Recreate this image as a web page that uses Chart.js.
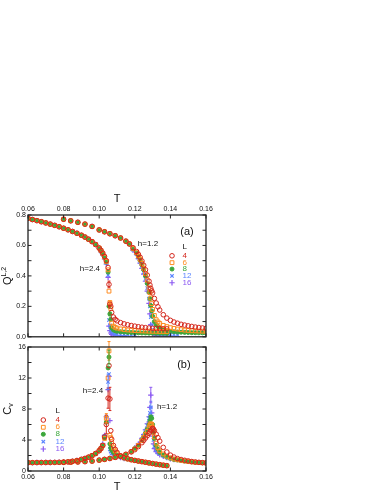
<!DOCTYPE html>
<html>
<head>
<meta charset="utf-8">
<script src="https://cdn.jsdelivr.net/npm/chart.js@4.4.1/dist/chart.umd.min.js"></script>
<style>
  html, body { margin: 0; padding: 0; background: #fff; }
  #page { position: relative; width: 382px; height: 494px; overflow: hidden; background: #fff; }
  .panel { position: absolute; left: 0; }
</style>
</head>
<body>
<div id="page">
  <canvas id="chartA" class="panel" width="215" height="157" style="top:185px"></canvas>
  <canvas id="chartB" class="panel" width="215" height="154" style="top:340px"></canvas>
</div>
<script>
'use strict';

// ---- axes ----
const tTicks  = [0.06, 0.08, 0.10, 0.12, 0.14, 0.16];
const qTicks  = [0, 0.2, 0.4, 0.6, 0.8];
const cvTicks = [0, 4, 8, 12, 16];
const sizes   = ['4', '6', '8', '12', '16'];

// ---- (a) Q, h=2.4 ----
const tLow24 = [0.060,0.0625,0.065,0.0675,0.070,0.0725,0.075,0.0775,0.080,0.0825,0.085,0.0875,0.090,0.092,0.094,0.096,0.098,0.100];
const qLow24 = [0.778,0.770,0.763,0.756,0.748,0.740,0.732,0.723,0.713,0.703,0.692,0.680,0.667,0.655,0.641,0.625,0.606,0.583];
const tHigh24 = [0.101,0.102,0.103,0.104,0.105,0.1055,0.106,0.1065,0.107,0.108,0.109,0.110,0.112,0.114,0.116,0.118,0.120,0.122,0.124,0.126,0.128,0.130,0.132,0.134,0.136,0.138];
const q24L4  = [0.568,0.550,0.528,0.500,0.455,0.344,0.215,0.200,0.160,0.130,0.115,0.105,0.093,0.085,0.079,0.074,0.070,0.066,0.063,0.060,0.058,0.056,0.055,0.054,0.053,0.052];
const q24L6  = [0.566,0.547,0.524,0.495,0.440,0.300,0.225,0.185,0.090,0.070,0.062,0.057,0.052,0.048,0.045,0.043,0.041,0.040,0.039,0.038,0.037,0.036,0.036,0.035,0.035,0.034];
const q24L8  = [0.564,0.545,0.521,0.491,0.425,0.200,0.150,0.115,0.060,0.045,0.040,0.036,0.033,0.031,0.029,0.028,0.027,0.026,0.025,0.025,0.024,0.024,0.023,0.023,0.023,0.022];
const q24L12 = [0.560,0.540,0.516,0.485,0.405,0.110,0.075,0.045,0.030,0.022,0.019,0.017,0.015,0.014,0.013,0.012,0.012,null,null,null,null,null,null,null,null,null];
const q24L16 = [0.557,0.536,0.511,0.478,0.390,0.070,0.040,0.025,0.015,0.012,0.010,0.009,0.008,0.008,null,null,null,null,null,null,null,null,null,null,null,null];

// ---- (a) Q, h=1.2 ----
const tLow12 = [0.080,0.084,0.088,0.092,0.096,0.100,0.103,0.106,0.109,0.112,0.115,0.117];
const qLow12 = [0.772,0.762,0.752,0.740,0.725,0.702,0.690,0.677,0.664,0.649,0.628,0.610];
const tHighQ12 = [0.119,0.121,0.122,0.123,0.124,0.125,0.126,0.127,0.128,0.1285,0.129,0.1295,0.130,0.131,0.132,0.133,0.134,0.136,0.138,0.140,0.142,0.144,0.146,0.148,0.150,0.152,0.154,0.156,0.158,0.160];
const q12L4  = [0.585,0.560,0.542,0.522,0.498,0.470,0.440,0.405,0.365,0.340,0.318,0.302,0.288,0.252,0.222,0.197,0.176,0.145,0.123,0.108,0.097,0.089,0.082,0.077,0.072,0.068,0.064,0.061,0.058,0.056];
const q12L6  = [0.580,0.553,0.532,0.509,0.482,0.450,0.415,0.372,0.322,0.290,0.255,0.218,0.180,0.140,0.112,0.098,0.088,0.075,0.067,0.060,0.055,0.051,0.047,0.044,0.042,0.040,0.039,0.038,0.037,0.036];
const q12L8  = [0.577,0.549,0.527,0.501,0.472,0.440,0.400,0.350,0.292,0.250,0.205,0.170,0.135,0.100,0.080,0.068,0.058,0.048,0.042,0.036,0.033,0.031,0.030,0.029,0.028,0.027,0.027,0.026,0.026,0.025];
const q12L12 = [0.572,0.544,0.520,0.492,0.460,0.425,0.380,0.320,0.250,0.200,0.130,0.080,0.047,0.030,0.024,0.020,0.018,0.016,0.015,0.014,0.013,0.012,null,null,null,null,null,null,null,null];
const q12L16 = [0.568,0.540,0.514,0.484,0.450,0.412,0.365,0.300,0.220,0.150,0.080,0.040,0.018,0.012,0.010,0.009,0.008,0.007,0.007,null,null,null,null,null,null,null,null,null,null,null];

// ---- (b) Cv, h=2.4 (same T grid as (a)) ----
const cLow24 = [1.08,1.08,1.09,1.09,1.10,1.10,1.11,1.12,1.14,1.18,1.25,1.35,1.50,1.62,1.78,1.98,2.25,2.62];
const c24L4  = [2.9,3.3,4.4,6.0,9.4,13.6,9.3,5.2,4.1,3.3,2.8,2.4,1.95,1.72,1.58,1.46,1.37,1.29,1.21,1.13,1.05,0.97,0.89,0.82,0.75,0.69];
const c24L6  = [2.9,3.3,4.2,6.8,12.0,15.5,4.6,4.3,3.6,3.0,2.6,2.3,1.92,1.70,1.56,1.45,1.36,1.28,1.20,1.12,1.04,0.96,0.88,0.81,0.74,0.68];
const c24L8  = [2.9,3.3,4.3,6.3,13.3,14.7,3.5,3.0,2.7,2.4,2.2,2.0,1.85,1.68,1.55,1.44,1.35,1.27,1.19,1.11,1.03,0.95,0.87,0.80,0.74,0.68];
const c24L12 = [3.0,3.4,4.5,7.0,11.5,12.5,2.8,2.5,2.3,2.1,1.95,1.85,1.75,1.63,1.52,1.42,1.34,1.26,null,null,null,null,null,null,null,null];
const c24L16 = [3.0,3.5,4.6,7.0,10.5,12.2,6.5,3.0,2.4,2.1,1.95,1.85,1.72,1.60,null,null,null,null,null,null,null,null,null,null,null,null];

// ---- (b) Cv, h=1.2 ----
const tLowC12 = [0.080,0.084,0.088,0.092,0.096,0.100,0.103,0.106,0.109,0.112,0.115,0.118];
const cLow12  = [1.12,1.14,1.17,1.21,1.28,1.40,1.50,1.62,1.76,1.92,2.15,2.48];
const tHighC12 = [0.120,0.122,0.124,0.125,0.126,0.127,0.128,0.1285,0.129,0.1295,0.130,0.1305,0.131,0.132,0.133,0.134,0.136,0.138,0.140,0.142,0.144,0.146,0.148,0.150,0.152,0.154,0.156,0.158,0.160];
const c12L4  = [2.75,3.15,3.65,3.95,4.25,4.55,4.85,5.05,5.25,5.40,5.50,5.40,5.20,4.75,4.30,3.85,3.05,2.45,2.05,1.80,1.60,1.48,1.38,1.30,1.22,1.16,1.12,1.08,1.05];
const c12L6  = [2.85,3.30,3.90,4.30,4.70,5.10,5.60,5.90,6.10,6.00,5.60,5.00,4.40,3.60,3.00,2.60,2.20,1.90,1.70,1.55,1.45,1.38,1.30,1.24,1.18,1.13,1.10,1.06,1.03];
const c12L8  = [2.90,3.30,4.00,4.40,4.90,5.40,6.00,6.50,7.00,6.80,6.00,5.00,4.20,3.30,2.80,2.40,2.05,1.80,1.65,1.50,1.42,1.35,1.28,1.22,1.17,1.13,1.09,1.06,1.03];
const c12L12 = [2.90,3.40,4.10,4.60,5.20,5.90,6.80,7.50,8.20,7.00,5.00,4.00,3.20,2.70,2.40,2.20,1.95,1.75,1.60,1.50,1.40,1.33,1.27,1.21,1.16,null,null,null,null];
const c12L16 = [3.00,3.50,4.20,4.70,5.30,6.10,7.00,8.20,9.80,7.50,4.50,3.50,2.90,2.50,2.30,2.10,1.90,1.72,1.58,1.48,null,null,null,null,null,null,null,null,null];

// error bars: [series index, T, value, half-width]
const errA = [[0,0.1055,0.344,0.022],[0,0.106,0.215,0.012],[1,0.106,0.225,0.010],[2,0.106,0.150,0.012]];
const errB = [[0,0.104,6.0,1.2],[0,0.105,9.4,1.3],[0,0.106,9.3,1.5],[1,0.104,6.8,0.6],[1,0.1055,15.5,1.2],
              [2,0.1055,14.7,0.9],[3,0.105,11.5,1.0],[3,0.129,8.2,0.8],[4,0.129,9.8,1.0]];

// ---- styling ----
const FONT = "'Liberation Sans', Arial, Helvetica, sans-serif";
const COLORS = ['#d3261c', '#ff8c21', '#3ca73c', '#5b85ff', '#8c5af2'];
const MARKS = [
  { pointStyle: 'circle',   radius: 2.3, borderWidth: 1,   fill: false },
  { pointStyle: 'rect',     radius: 2.7, borderWidth: 1,   fill: false },
  { pointStyle: 'circle',   radius: 2.0, borderWidth: 1,   fill: true  },
  { pointStyle: 'crossRot', radius: 2.4, borderWidth: 1.2, fill: false },
  { pointStyle: 'cross',    radius: 2.7, borderWidth: 1.2, fill: false }
];

function pts(ts, vs) {
  return ts.map((t, i) => ({ x: t, y: vs[i] })).filter(p => p.y != null);
}

function series(i, data) {
  const m = MARKS[i];
  return {
    data,
    showLine: false,
    pointStyle: m.pointStyle,
    pointRadius: m.radius,
    pointBorderWidth: m.borderWidth,
    borderColor: COLORS[i],
    backgroundColor: m.fill ? COLORS[i] : 'rgba(0,0,0,0)'
  };
}

function drawMark(ctx, i, x, y) {
  const m = MARKS[i];
  ctx.strokeStyle = COLORS[i];
  ctx.fillStyle = m.fill ? COLORS[i] : 'rgba(0,0,0,0)';
  ctx.lineWidth = m.borderWidth;
  Chart.helpers.drawPoint(ctx, { pointStyle: m.pointStyle, radius: m.radius, borderWidth: m.borderWidth, rotation: 0 }, x, y);
}

// frame, inward ticks, error bars, notes, legend, axis titles
const panelDecor = {
  id: 'panelDecor',
  afterDatasetsDraw(chart, args, o) {
    const { ctx, chartArea: a, scales: { x, y } } = chart;
    ctx.save();

    (o.errors || []).forEach(([i, t, v, e]) => {
      const px = x.getPixelForValue(t);
      const y1 = y.getPixelForValue(v - e), y2 = y.getPixelForValue(v + e);
      ctx.strokeStyle = COLORS[i];
      ctx.lineWidth = 1;
      ctx.beginPath();
      ctx.moveTo(px, y1); ctx.lineTo(px, y2);
      ctx.moveTo(px - 1.5, y1); ctx.lineTo(px + 1.5, y1);
      ctx.moveTo(px - 1.5, y2); ctx.lineTo(px + 1.5, y2);
      ctx.stroke();
    });

    ctx.strokeStyle = '#222';
    ctx.lineWidth = 1.3;
    ctx.strokeRect(a.left, a.top, a.right - a.left, a.bottom - a.top);
    ctx.lineWidth = 1;
    ctx.beginPath();
    tTicks.forEach(v => {
      const px = x.getPixelForValue(v);
      ctx.moveTo(px, a.top); ctx.lineTo(px, a.top + 3.5);
      ctx.moveTo(px, a.bottom); ctx.lineTo(px, a.bottom - 3.5);
    });
    const yt = o.yTicks;
    const yAll = yt.concat(yt.slice(1).map((v, k) => (v + yt[k]) / 2));
    yAll.forEach(v => {
      const py = y.getPixelForValue(v);
      ctx.moveTo(a.left, py); ctx.lineTo(a.left + 3.5, py);
      ctx.moveTo(a.right, py); ctx.lineTo(a.right - 3.5, py);
    });
    ctx.stroke();

    ctx.fillStyle = '#111';
    ctx.textBaseline = 'middle';
    (o.notes || []).forEach(n => {
      ctx.font = `${n.size}px ${FONT}`;
      ctx.textAlign = 'center';
      ctx.fillText(n.text, x.getPixelForValue(n.t), y.getPixelForValue(n.v));
    });

    const lg = o.legend;
    ctx.font = `8px ${FONT}`;
    ctx.textAlign = 'left';
    ctx.fillStyle = '#111';
    ctx.fillText('L', x.getPixelForValue(lg.tText), y.getPixelForValue(lg.vHead));
    lg.rows.forEach((v, i) => {
      const py = y.getPixelForValue(v);
      drawMark(ctx, i, x.getPixelForValue(lg.tMark), py);
      ctx.fillStyle = COLORS[i];
      ctx.fillText(sizes[i], x.getPixelForValue(lg.tText), py);
    });

    // T title
    ctx.fillStyle = '#111';
    ctx.textAlign = 'center';
    ctx.font = `11px ${FONT}`;
    const cx = (a.left + a.right) / 2;
    ctx.fillText('T', cx, o.titleTop ? a.top - 16 : a.bottom + 16);

    // y title with super/subscript
    const cy = (a.top + a.bottom) / 2;
    ctx.translate(8, cy);
    ctx.rotate(-Math.PI / 2);
    ctx.textAlign = 'left';
    ctx.font = `11px ${FONT}`;
    const wMain = ctx.measureText(o.yMain).width;
    ctx.font = `7px ${FONT}`;
    const wSub = ctx.measureText(o.ySub).width;
    const x0 = -(wMain + wSub) / 2;
    ctx.font = `11px ${FONT}`;
    ctx.fillText(o.yMain, x0, 0);
    ctx.font = `7px ${FONT}`;
    ctx.fillText(o.ySub, x0 + wMain, o.supers ? -4 : 3);
    ctx.restore();
  }
};

function xScale(position, height) {
  return {
    type: 'linear', position, min: 0.06, max: 0.16,
    afterBuildTicks: s => { s.ticks = tTicks.map(v => ({ value: v })); },
    afterFit: s => { s.height = height; s.paddingLeft = 0; s.paddingRight = 0; },
    ticks: { callback: v => v.toFixed(2), font: { family: FONT, size: 7 }, color: '#111', padding: 2, maxRotation: 0, autoSkip: false },
    grid: { display: false, drawTicks: false },
    border: { display: false }
  };
}

function yScale(max, ticks, digits) {
  return {
    type: 'linear', min: 0, max,
    afterBuildTicks: s => { s.ticks = ticks.map(v => ({ value: v })); },
    afterFit: s => { s.width = 28; s.paddingTop = 0; s.paddingBottom = 0; },
    ticks: { callback: v => v.toFixed(digits), font: { family: FONT, size: 7 }, color: '#111', padding: 2, autoSkip: false },
    grid: { display: false, drawTicks: false },
    border: { display: false }
  };
}

function build(id, datasets, xs, ys, padding, decor) {
  return new Chart(document.getElementById(id), {
    type: 'scatter',
    data: { datasets },
    options: {
      responsive: false,
      animation: false,
      events: [],
      layout: { padding },
      scales: { x: xs, y: ys },
      plugins: { legend: { display: false }, tooltip: { enabled: false }, panelDecor: decor }
    },
    plugins: [panelDecor]
  });
}

// (a)
const q24 = [q24L4, q24L6, q24L8, q24L12, q24L16];
const q12 = [q12L4, q12L6, q12L8, q12L12, q12L16];
const dsA = [];
q24.forEach((vals, i) => {
  dsA.push(series(i, pts(tLow24, qLow24).concat(pts(tHigh24, vals))));
  dsA.push(series(i, pts(tLow12, qLow12).concat(pts(tHighQ12, q12[i]))));
});
build('chartA', dsA, xScale('top', 30), yScale(0.8, qTicks, 1), { left: 0, right: 9, top: 0, bottom: 3 }, {
  yTicks: qTicks, errors: errA, titleTop: true, yMain: 'Q', ySub: 'L,2', supers: true,
  notes: [
    { text: '(a)', t: 0.1493, v: 0.690, size: 11 },
    { text: 'h=1.2', t: 0.1274, v: 0.613, size: 8 },
    { text: 'h=2.4', t: 0.0948, v: 0.445, size: 8 }
  ],
  legend: { tMark: 0.1409, tText: 0.1468, vHead: 0.590, rows: [0.532, 0.487, 0.445, 0.400, 0.355] }
});

// (b)
const c24 = [c24L4, c24L6, c24L8, c24L12, c24L16];
const c12 = [c12L4, c12L6, c12L8, c12L12, c12L16];
const dsB = [];
c24.forEach((vals, i) => {
  dsB.push(series(i, pts(tLow24, cLow24).concat(pts(tHigh24, vals))));
  dsB.push(series(i, pts(tLowC12, cLow12).concat(pts(tHighC12, c12[i]))));
});
build('chartB', dsB, xScale('bottom', 23), yScale(16, cvTicks, 0), { left: 0, right: 9, top: 7, bottom: 0 }, {
  yTicks: cvTicks, errors: errB, titleTop: false, yMain: 'C', ySub: 'v', supers: false,
  notes: [
    { text: '(b)', t: 0.1476, v: 13.7, size: 11 },
    { text: 'h=2.4', t: 0.0965, v: 10.3, size: 8 },
    { text: 'h=1.2', t: 0.1381, v: 8.26, size: 8 }
  ],
  legend: { tMark: 0.0686, tText: 0.0755, vHead: 7.74, rows: [6.58, 5.64, 4.74, 3.78, 2.84] }
});
</script>
</body>
</html>
